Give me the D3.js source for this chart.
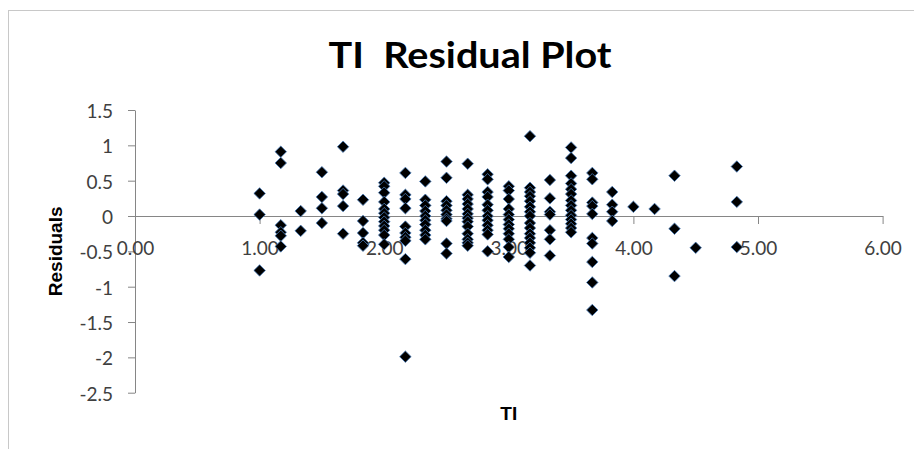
<!DOCTYPE html>
<html>
<head>
<meta charset="utf-8">
<script src="https://cdn.jsdelivr.net/npm/d3@7"></script>
<style>
  html, body { margin: 0; padding: 0; background: #fff; }
  svg { display: block; }
</style>
</head>
<body>
<svg id="chart" width="914" height="449"></svg>
<script>
// TI levels (x) and the residuals plotted in each column
const tiLevels = [1.00, 1.17, 1.33, 1.50, 1.67, 1.83, 2.00, 2.17, 2.33, 2.50, 2.67, 2.83,
  3.00, 3.17, 3.33, 3.50, 3.67, 3.83, 4.00, 4.17, 4.33, 4.50, 4.83];

const residuals = [
  [0.32, 0.02, -0.77],
  [0.91, 0.75, -0.13, -0.23, -0.28, -0.43],
  [0.07, -0.21],
  [0.62, 0.27, 0.11, -0.10],
  [0.98, 0.36, 0.31, 0.14, -0.25],
  [0.23, -0.07, -0.24, -0.38, -0.42],
  [0.47, 0.42, 0.33, 0.20, 0.10, 0.04, -0.02, -0.08, -0.14, -0.20, -0.27, -0.40],
  [0.61, 0.30, 0.24, 0.11, -0.15, -0.24, -0.30, -0.35, -0.61, -1.99],
  [0.49, 0.23, 0.15, 0.07, 0.00, -0.06, -0.12, -0.20, -0.27, -0.33],
  [0.77, 0.54, 0.21, 0.15, 0.08, 0.02, -0.04, -0.07, -0.39, -0.53],
  [0.74, 0.30, 0.24, 0.17, 0.10, 0.03, -0.03, -0.08, -0.15, -0.25, -0.33, -0.38, -0.42],
  [0.59, 0.52, 0.34, 0.27, 0.16, 0.08, 0.00, -0.06, -0.13, -0.20, -0.26, -0.50],
  [0.42, 0.36, 0.24, 0.10, 0.02, -0.05, -0.12, -0.18, -0.25, -0.33, -0.44, -0.58],
  [1.13, 0.40, 0.34, 0.28, 0.21, 0.13, 0.06, 0.00, -0.10, -0.17, -0.25, -0.31, -0.38, -0.45, -0.52, -0.70],
  [0.51, 0.25, 0.06, 0.02, -0.20, -0.33, -0.56],
  [0.97, 0.82, 0.57, 0.46, 0.38, 0.31, 0.22, 0.15, 0.08, 0.01, -0.05, -0.11, -0.17, -0.23],
  [0.61, 0.52, 0.19, 0.14, 0.03, -0.31, -0.39, -0.65, -0.94, -1.33],
  [0.34, 0.16, 0.06, -0.07],
  [0.13],
  [0.10],
  [0.57, -0.18, -0.85],
  [-0.45],
  [0.70, 0.20, -0.44]
];

const xTicks = [0, 1, 2, 3, 4, 5, 6];
const yTicks = [-2.5, -2, -1.5, -1, -0.5, 0, 0.5, 1, 1.5];

const chartTitle = 'TI  Residual Plot';
const xTitle = 'TI';
const yTitle = 'Residuals';

const width = 914;
const height = 449;
const plot = { left: 135, right: 882.6, top: 110, bottom: 392.7 };

const svg = d3.select('#chart');

// chart area border (only top and left show in the frame)
svg.append('rect')
  .attr('x', 8.5)
  .attr('y', 10.5)
  .attr('width', width + 20)
  .attr('height', height + 20)
  .attr('fill', '#fff')
  .attr('stroke', '#c8c8c8');

const x = d3.scaleLinear().domain([0, 6]).range([plot.left, plot.right]);
const y = d3.scaleLinear().domain([-2.5, 1.5]).range([plot.bottom, plot.top]);

// y axis on the left of the plot
const yAxis = svg.append('g')
  .attr('transform', `translate(${plot.left},0)`)
  .call(d3.axisLeft(y)
    .tickValues(yTicks)
    .tickSize(7)
    .tickSizeOuter(0)
    .tickPadding(15)
    .tickFormat(d => String(d)));

// x axis crosses at zero
const xAxis = svg.append('g')
  .attr('transform', `translate(0,${y(0)})`)
  .call(d3.axisBottom(x)
    .tickValues(xTicks)
    .tickSize(8)
    .tickSizeOuter(0)
    .tickPadding(18)
    .tickFormat(d3.format('.2f')));

[xAxis, yAxis].forEach(g => {
  g.select('.domain').attr('stroke', '#868686');
  g.selectAll('.tick line').attr('stroke', '#868686');
  g.selectAll('.tick text')
    .attr('fill', '#404040')
    .style('font-family', 'Lato, "Open Sans", sans-serif')
    .style('font-size', '19px');
});
yAxis.selectAll('.tick text').attr('dy', '0.4em');

// diamond marker, square turned 45 degrees
const diamond = {
  draw(context, size) {
    const r = Math.sqrt(size / 2);
    context.moveTo(0, -r);
    context.lineTo(r, 0);
    context.lineTo(0, r);
    context.lineTo(-r, 0);
    context.closePath();
  }
};

const points = tiLevels.flatMap((t, i) => residuals[i].map(r => ({ ti: t, r })));

svg.append('g')
  .selectAll('path')
  .data(points)
  .join('path')
  .attr('transform', d => `translate(${x(d.ti)},${y(d.r)})`)
  .attr('d', d3.symbol().type(diamond).size(66))
  .attr('fill', '#000')
  .attr('stroke', '#4a7ebb')
  .attr('stroke-width', 0.8);

// titles
svg.append('text')
  .attr('x', 470)
  .attr('y', 68)
  .attr('text-anchor', 'middle')
  .style('white-space', 'pre')
  .style('font-family', 'Lato, "Open Sans", sans-serif')
  .style('font-weight', 'bold')
  .style('font-size', '36px')
  .attr('fill', '#000')
  .attr('textLength', 283)
  .attr('lengthAdjust', 'spacingAndGlyphs')
  .text(chartTitle);

svg.append('text')
  .attr('x', x(3))
  .attr('y', 420)
  .attr('text-anchor', 'middle')
  .style('font-family', '"Liberation Sans", Arial, sans-serif')
  .style('font-weight', 'bold')
  .style('font-size', '19px')
  .attr('fill', '#000')
  .text(xTitle);

svg.append('text')
  .attr('transform', `translate(62,${(plot.top + plot.bottom) / 2}) rotate(-90)`)
  .attr('text-anchor', 'middle')
  .style('font-family', '"Liberation Sans", Arial, sans-serif')
  .style('font-weight', 'bold')
  .style('font-size', '19px')
  .attr('fill', '#000')
  .text(yTitle);
</script>
</body>
</html>
